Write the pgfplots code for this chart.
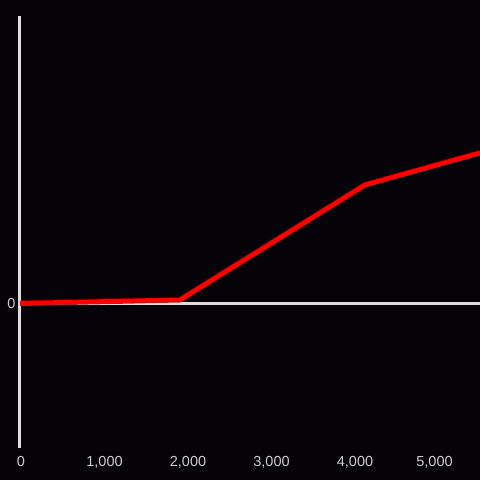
\documentclass[border=0pt]{standalone}
\usepackage{fontspec}
\setmainfont{Liberation Sans}
\usepackage{pgfplots}
\pgfplotsset{compat=1.18}
\definecolor{bg}{HTML}{050307}
\definecolor{axc}{HTML}{DDDDDD}
\definecolor{lab}{HTML}{CCCCCC}
\begin{document}
\begin{tikzpicture}[x=1bp,y=1bp]
\fill[bg] (-20,-32) rectangle (460,448);
\begin{axis}[
  at={(0,0)}, anchor=south west,
  scale only axis, width=460bp, height=432bp,
  xmin=-12, xmax=5497, ymin=-144.5, ymax=287.5,
  axis x line*=bottom, axis y line*=left,
  x axis line style={draw=none, -},
  y axis line style={axc, line width=3bp, -},
  xtick={0,1000,2000,3000,4000},
  extra x ticks={5000},
  extra x tick style={xticklabel style={xshift=-4bp}},
  ytick={0},
  major tick length=0pt,
  ymajorgrids, grid style={axc, line width=3bp},
  /pgf/number format/assume math mode=true,
  /pgf/number format/1000 sep={,},
  tick label style={font=\fontsize{14.5bp}{17bp}\selectfont, text=lab},
  xticklabel style={yshift=-5bp},
  yticklabel style={xshift=-1bp},
  clip=false,
]
\addplot[draw=red, line width=5bp, line join=round] coordinates {
  (-12,0) (1904,3.5) (4120,118.5) (5497,150.5)
};
\end{axis}
\pgfresetboundingbox
\useasboundingbox (-20,-32) rectangle (460,448);
\end{tikzpicture}
\end{document}
